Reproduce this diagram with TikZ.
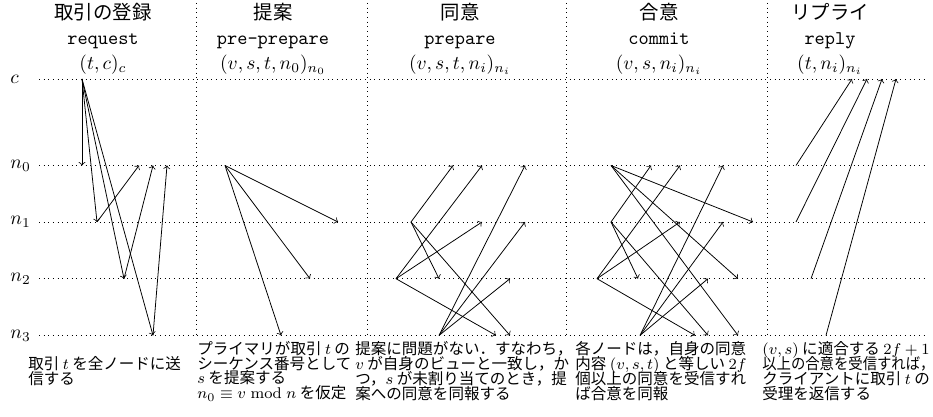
\documentclass[tikz,border=0pt]{standalone}
\usepackage{fontspec}
\usepackage{graphicx}
\newfontfamily\jp{Noto Sans CJK JP}
\newfontfamily\jph[RawFeature=+halt]{Noto Sans CJK JP}
\newcommand\notefont{\jp\fontsize{8}{7.7}\selectfont\lineskiplimit -20pt\relax}
\begin{document}
\begin{tikzpicture}[x=0.5155pt,y=-0.5155pt,
  lane/.style={dotted},
  msg/.style={->},
  lbl/.style={anchor=west,inner sep=0pt},
  hdj/.style={font=\jp,anchor=base,inner sep=0pt},
  hdt/.style={font=\ttfamily,anchor=base,inner sep=0pt},
  hdm/.style={anchor=base,inner sep=0pt},
  note/.style={font=\notefont,align=left,anchor=west,inner sep=0pt}]
\useasboundingbox (0,0) rectangle (933,417);
% lanes
\foreach \i/\y/\t in {c/79/c,0/165.5/n_0,1/222/n_1,2/278.7/n_2,3/335.4/n_3}{
  \node[lbl] (lab\i) at (10,\y) {$\t$};
  \coordinate (L\i) at (39,\y);
  \coordinate (R\i) at (925,\y);
  \draw[lane] (L\i) -- (R\i);
}
% separators
\foreach \i/\x in {1/196.5,2/367,3/566,4/767}{
  \coordinate (T\i) at (\x,3);
  \coordinate (B\i) at (\x,335.4);
  \draw[lane] (T\i) -- (B\i);
}
% headers
\foreach \i/\x/\j/\tt/\m in {
  1/103/取引の登録/request/{(t,c)_c},
  2/273/提案/pre-prepare/{(v,s,t,n_0)_{n_0}},
  3/460/同意/prepare/{(v,s,t,n_i)_{n_i}},
  4/659/合意/commit/{(v,s,n_i)_{n_i}},
  5/830/リプライ/reply/{(t,n_i)_{n_i}}}{
  \node[hdj] (hj\i) at (\x,20) {\j};
  \node[hdt] (ht\i) at (\x,45) {\tt};
  \node[hdm] (hm\i) at (\x,70) {$\m$};
}
% phase 1: request
\coordinate (a) at (82,79);
\coordinate (a0) at (82,165.5);
\coordinate (a1) at (97,222);
\coordinate (a2) at (124,278.7);
\coordinate (a3) at (153,335.4);
\coordinate (a10) at (139,165.5);
\coordinate (a20) at (153,165.5);
\coordinate (a30) at (167,165.5);
\draw[msg] (a) -- (a0);
\draw[msg] (a) -- (a1);
\draw[msg] (a) -- (a2);
\draw[msg] (a) -- (a3);
\draw[msg] (a1) -- (a10);
\draw[msg] (a2) -- (a20);
\draw[msg] (a3) -- (a30);
% phase 2: pre-prepare
\coordinate (p) at (225,165.5);
\coordinate (p1) at (338,222);
\coordinate (p2) at (310,278.7);
\coordinate (p3) at (281,335.4);
\draw[msg] (p) -- (p1);
\draw[msg] (p) -- (p2);
\draw[msg] (p) -- (p3);
% phase 3: prepare
\coordinate (q1) at (411,222);
\coordinate (q2) at (396,278.7);
\coordinate (q3) at (439,335.4);
\coordinate (q10) at (453,165.5);
\coordinate (q12) at (439,278.7);
\coordinate (q13) at (510,335.4);
\coordinate (q20) at (482,165.5);
\coordinate (q21) at (482,222);
\coordinate (q23) at (496,335.4);
\coordinate (q30) at (525,165.5);
\coordinate (q31) at (525,222);
\coordinate (q32) at (510,278.7);
\foreach \s/\t in {q1/q10,q1/q12,q1/q13,q2/q20,q2/q21,q2/q23,q3/q30,q3/q31,q3/q32}
  \draw[msg] (\s) -- (\t);
% phase 4: commit
\coordinate (m0) at (611,165.5);
\coordinate (m1) at (611,222);
\coordinate (m2) at (597,278.7);
\coordinate (m3) at (640,335.4);
\coordinate (m01) at (753,222);
\coordinate (m02) at (738,278.7);
\coordinate (m03) at (738,335.4);
\coordinate (m10) at (651,165.5);
\coordinate (m12) at (638,278.7);
\coordinate (m13) at (708,335.4);
\coordinate (m20) at (680,165.5);
\coordinate (m21) at (680,222);
\coordinate (m23) at (695,335.4);
\coordinate (m30) at (723,165.5);
\coordinate (m31) at (723,222);
\coordinate (m32) at (708,278.7);
\foreach \s/\t in {m0/m01,m0/m02,m0/m03,m1/m10,m1/m12,m1/m13,m2/m20,m2/m21,m2/m23,m3/m30,m3/m31,m3/m32}
  \draw[msg] (\s) -- (\t);
% phase 5: reply
\coordinate (r0) at (796,165.5);
\coordinate (r1) at (796,222);
\coordinate (r2) at (811,278.7);
\coordinate (r3) at (826,335.4);
\coordinate (rc0) at (852,79);
\coordinate (rc1) at (867,79);
\coordinate (rc2) at (882,79);
\coordinate (rc3) at (896,79);
\foreach \i in {0,1,2,3}
  \draw[msg] (r\i) -- (rc\i);
% notes
\node[note] (t1) at (28,371) {取引 $t$ を全ノードに送\\信する};
\node[note] (t2) at (197,371) {プライマリが取引 $t$ の\\シーケンス番号として\\$s$ を提案する\\$n_0\equiv v \bmod n$ を仮定};
\node[note] (t3) at (355,371) {提案に問題がない．すなわち{\jph ，}\\$v$ が自身のビューと一致し，か\\つ，$s$ が未割り当てのとき，提\\案への同意を同報する};
\node[note] (t4) at (575,371) {各ノードは，自身の同意\\内容 $(v,s,t)$ と等しい $2f$\\個以上の同意を受信すれ\\ば合意を同報};
\node[note] (t5) at (762,371) {$(v,s)$ に適合する $2f+1$\\\resizebox{85pt}{\height}{以上の合意を受信すれば{\jph ，}}\\クライアントに取引 $t$ の\\受理を返信する};
\end{tikzpicture}
\end{document}
